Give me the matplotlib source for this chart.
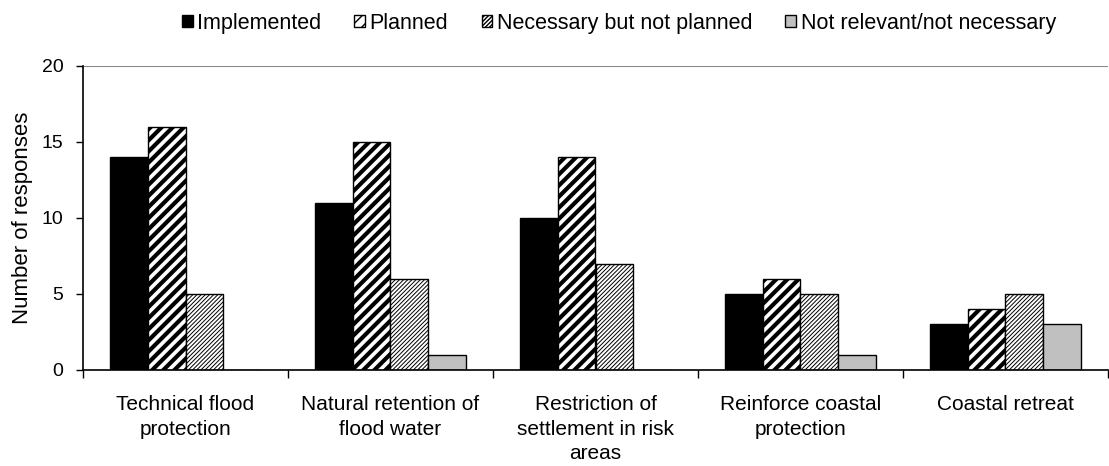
import matplotlib
matplotlib.use('Agg')
from matplotlib import pyplot as plt
import numpy as np

plt.rcParams['font.family'] = ['Liberation Sans', 'DejaVu Sans']

categories = ['Technical flood\nprotection', 'Natural retention of\nflood water',
              'Restriction of\nsettlement in risk\nareas', 'Reinforce coastal\nprotection',
              'Coastal retreat']
implemented = [14, 11, 10, 5, 3]
planned = [16, 15, 14, 6, 4]
necessary = [5, 6, 7, 5, 5]
not_relevant = [0, 1, 0, 1, 3]

series = [
    ('Implemented', implemented, 'black', '', 1.0),
    ('Planned', planned, 'white', '///', 3.0),
    ('Necessary but not planned', necessary, 'white', '/' * 8, 0.7),
    ('Not relevant/not necessary', not_relevant, '#c0c0c0', '', 1.0),
]

fig = plt.figure(figsize=(11.09, 4.66), dpi=100)
ax = fig.add_axes([83/1109, 1-370/466, 1-84/1109, (370-66)/466])

x = np.arange(len(categories))
w = 0.183
for i, (name, vals, color, hatch, hlw) in enumerate(series):
    with plt.rc_context({'hatch.linewidth': hlw}):
        ax.bar(x + (i - 1.5) * w, vals, w, color=color, edgecolor='black',
               linewidth=1, hatch=hatch, label=name)

ax.set_xlim(-0.5, len(categories) - 0.5)
ax.set_ylim(0, 20)
ax.set_yticks([0, 5, 10, 15, 20])
ax.axhline(20, color='#888888', linewidth=1.5)

ax.set_xticks(np.arange(len(categories) + 1) - 0.5)
ax.set_xticklabels([])
ax.set_xticks(x, minor=True)
ax.set_xticklabels(categories, minor=True, linespacing=1.38)
ax.tick_params(axis='x', which='major', length=6, direction='out', width=1)
ax.tick_params(axis='x', which='minor', length=0, pad=18, labelsize=15)
ax.tick_params(axis='y', length=5, direction='out', width=1, labelsize=14, pad=9)

for s in ['top', 'right']:
    ax.spines[s].set_visible(False)
ax.spines['left'].set_linewidth(1.2)
ax.spines['bottom'].set_linewidth(1.2)

ax.set_ylabel('Number of responses', fontsize=16, labelpad=6)

fig.legend(loc='upper center', bbox_to_anchor=(0.558, 1.0), ncol=4, frameon=False,
           fontsize=15.5, handlelength=0.5, handleheight=0.5, handletextpad=0.2,
           columnspacing=1.55, borderaxespad=0.2)

fig.savefig('out.png', dpi=100)
